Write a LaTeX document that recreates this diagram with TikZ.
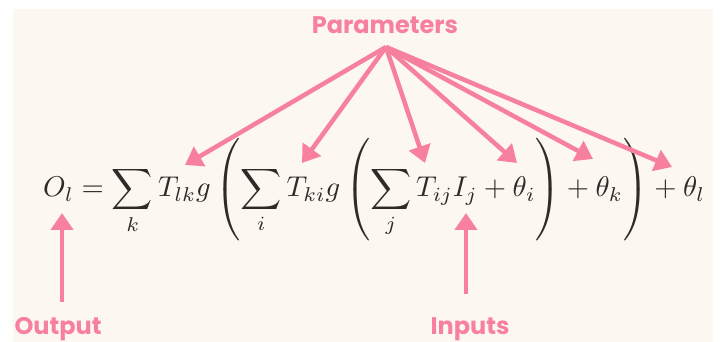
\documentclass[tikz,border=0pt]{standalone}
\usepackage{fontspec}
\setmainfont{Poppins}
\usepackage{graphicx}
\usetikzlibrary{arrows.meta}
\definecolor{cream}{RGB}{253,247,241}
\definecolor{pinkc}{RGB}{246,128,158}
\definecolor{inkc}{RGB}{45,42,40}
\tikzset{
  arr/.style={draw=pinkc, line width=4.5pt, -{Triangle[length=17pt,width=22pt]}},
  lbl/.style={text=pinkc, font=\bfseries\fontsize{24pt}{27pt}\selectfont, inner sep=0pt},
}
\begin{document}
\begin{tikzpicture}[x=1pt,y=-1pt]
\useasboundingbox (0,0) rectangle (721,342);
\fill[white] (0,0) rectangle (721,342);
\fill[cream] (13,9) rectangle (713,342);
\node[inner sep=0pt, anchor=base west, text=inkc] (eq) at (43,197)
  {\resizebox{662pt}{!}{$\displaystyle O_l = \sum_k T_{lk} g\left(\sum_i T_{ki} g\left(\sum_j T_{ij} I_j + \theta_i\right) + \theta_k\right) + \theta_l$}};
\node[lbl] (par) at (385,25) {Parameters};
\node[lbl] (outl) at (58,329) {Output};
\node[lbl] (inl) at (470,329) {Inputs};
\coordinate (src) at (386,47);
\coordinate (tlk) at (185,165);
\coordinate (tki) at (302,163);
\coordinate (tij) at (425,163);
\coordinate (thi) at (517,163);
\coordinate (thk) at (593,159);
\coordinate (thl) at (672,167);
\coordinate (otip) at (62,213);
\coordinate (obase) at (62,302);
\coordinate (itip) at (466,213);
\coordinate (ibase) at (466,294);
\foreach \t in {tlk,tki,tij,thi,thk,thl} \draw[arr] (src) -- (\t);
\draw[arr] (obase) -- (otip);
\draw[arr] (ibase) -- (itip);
\end{tikzpicture}
\end{document}
